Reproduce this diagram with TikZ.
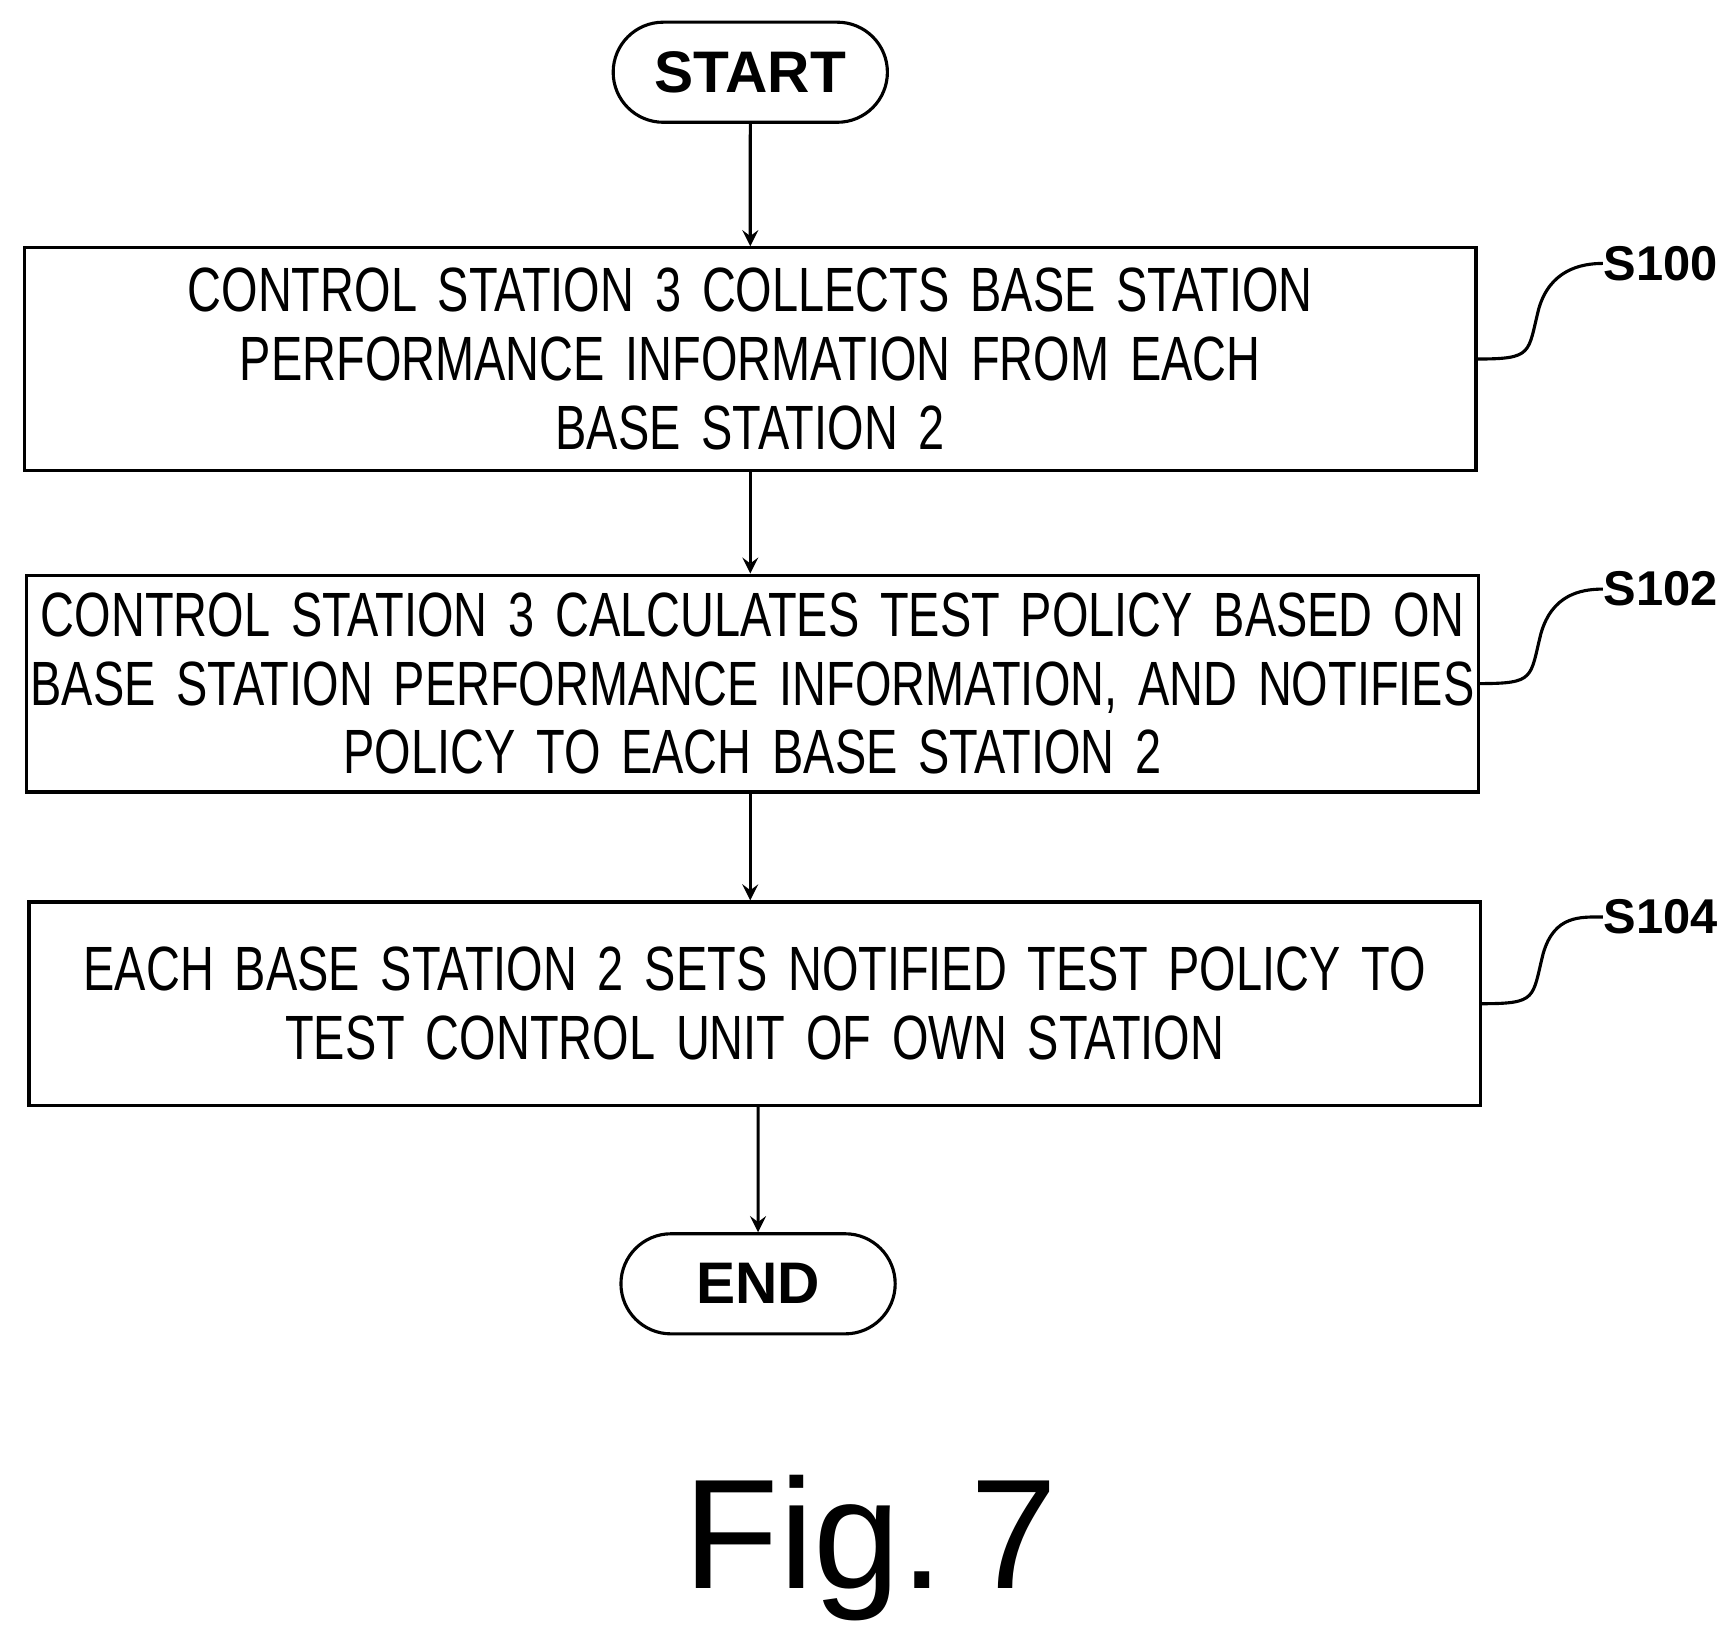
\documentclass[tikz,border=0pt]{standalone}
\usepackage{fontspec}
\setmainfont{Liberation Sans}
\newfontfamily\narrowfont[FakeStretch=0.75]{Liberation Sans}
\usetikzlibrary{shapes.geometric,shapes.misc,positioning}
\tikzset{
  term/.style={draw,thick,rounded rectangle,minimum width=2.7cm,minimum height=0.9cm,font=\bfseries\fontsize{15}{17}\selectfont},
  proc/.style={draw,thick,rectangle,align=center,font=\narrowfont\fontsize{16}{17.6}\selectfont,inner sep=0pt,text width=13.05cm},
  flow/.style={->,thick,>=stealth},
  tag/.style={font=\bfseries\fontsize{12.5}{14}\selectfont,anchor=west,inner sep=0pt}
}
\begin{document}
\begin{tikzpicture}[x=0.01cm,y=-0.01cm]
    \useasboundingbox (0,0) rectangle (1560,1477);
    \node[term] (start) at (675,65) {START};
    \node[proc,minimum height=2cm] (s100) at (675,323)
      {CONTROL STATION 3 COLLECTS BASE STATION\\PERFORMANCE INFORMATION FROM EACH\\BASE STATION 2};
    \node[proc,minimum height=1.95cm] (s102) at (677,615)
      {CONTROL STATION 3 CALCULATES TEST POLICY BASED ON\\BASE STATION PERFORMANCE INFORMATION, AND NOTIFIES\\POLICY TO EACH BASE STATION 2};
    \node[proc,minimum height=1.83cm] (s104) at (679,903)
      {EACH BASE STATION 2 SETS NOTIFIED TEST POLICY TO\\TEST CONTROL UNIT OF OWN STATION};
    \node[term] (end) at (682,1155) {END};
    \draw[flow] (start) -- (start |- s100.north);
    \draw[flow] (s100.south -| start) -- (s102.north -| start);
    \draw[flow] (s102.south -| start) -- (s104.north -| start);
    \draw[flow] (s104.south -| end) -- (end);
    % step labels
    \foreach \s/\y/\t in {s100/237/S100,s102/530/S102,s104/825/S104}{
      \node[tag] (l\s) at (1442,\y) {\t};
    }
    \foreach \s in {s100,s102,s104}{
      \draw[thick] (\s.east) .. controls ++(50,0) and ++(-10,40) .. ++(55,-45)
        .. controls ++(10,-35) and ++(-20,0) .. (l\s.west);
    }
    \node[font=\fontsize{40}{44}\selectfont] (fig) at (783,1393) {Fig.\,7};
\end{tikzpicture}
\end{document}
